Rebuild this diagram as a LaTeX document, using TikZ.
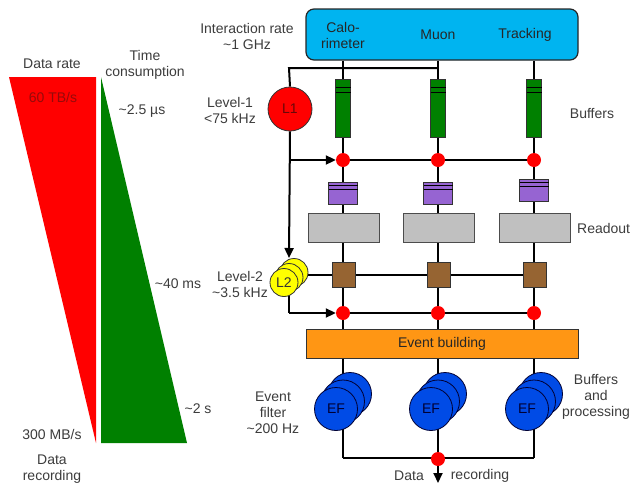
\documentclass[tikz,border=0pt]{standalone}
\usepackage{fontspec}
\setmainfont{Liberation Sans}
\usetikzlibrary{arrows.meta}
\pgfdeclarelayer{background}
\pgfsetlayers{background,main}
\definecolor{txtgray}{RGB}{60,60,60}
\definecolor{tred}{RGB}{255,0,0}
\definecolor{tgreen}{RGB}{0,128,0}
\definecolor{skyblue}{RGB}{0,180,240}
\definecolor{bufgreen}{RGB}{0,128,0}
\definecolor{purp}{RGB}{150,100,210}
\definecolor{rgray}{RGB}{192,192,192}
\definecolor{brown}{RGB}{150,100,50}
\definecolor{orng}{RGB}{255,150,20}
\definecolor{efblue}{RGB}{0,75,230}
\definecolor{yel}{RGB}{255,255,0}
\definecolor{dotred}{RGB}{255,0,0}
\definecolor{darkred}{RGB}{150,10,10}
\begin{document}
\begin{tikzpicture}[x=1pt,y=-1pt,
  txt/.style={text=txtgray, font=\fontsize{14}{16}\selectfont, align=center, inner sep=0},
  wire/.style={line width=2pt, black},
  arr/.style={wire, -{Triangle[length=10pt,width=9pt]}},
  dotnode/.style={circle, fill=dotred, minimum size=14pt, inner sep=0},
  bufbox/.style={draw=black!80, line width=0.8pt, fill=bufgreen, minimum width=15pt, minimum height=58pt, inner sep=0},
  purbox/.style={draw=black!80, line width=0.8pt, fill=purp, minimum width=29pt, minimum height=22pt, inner sep=0},
  rdbox/.style={draw=black!70, line width=0.8pt, fill=rgray, minimum width=71pt, minimum height=29pt, inner sep=0},
  brbox/.style={draw=black!80, line width=0.8pt, fill=brown, minimum width=23pt, minimum height=25pt, inner sep=0},
  efcirc/.style={circle, draw=black!80!blue, line width=0.8pt, fill=efblue, minimum size=43pt, inner sep=0, text=black!80!blue, font=\fontsize{14}{16}\selectfont},
  l2circ/.style={circle, draw=black!80, line width=0.8pt, fill=yel, minimum size=28pt, inner sep=0, text=black!80, font=\fontsize{14}{16}\selectfont},
]
\useasboundingbox (0,0) rectangle (630,485);

% ---- left triangles ----
\fill[tred] (9,77) -- (96,77) -- (96,443) -- cycle;
\fill[tgreen] (101,77) -- (101,443) -- (187,443) -- cycle;
\node[txt] (drate) at (52,64) {Data rate};
\node[txt, text=darkred] (r60) at (53,97) {60 TB/s};
\node[txt] (tcons) at (145,64.5) {Time\\consumption};
\node[txt] (t25) at (142,111) {\textasciitilde2.5 µs};
\node[txt] (t40) at (178,284) {\textasciitilde40 ms};
\node[txt] (t2) at (198,409) {\textasciitilde2 s};
\node[txt] (r300) at (52,434) {300 MB/s};
\node[txt] (drec) at (52,469) {Data\\recording};

% ---- side labels ----
\node[txt] (irate) at (247,36) {Interaction rate\\\textasciitilde1 GHz};
\node[txt] (lev1) at (230,110.5) {Level-1\\<75 kHz};
\node[txt] (lev2) at (240,284) {Level-2\\\textasciitilde3.5 kHz};
\node[txt] (evf) at (273,412.5) {Event\\filter\\\textasciitilde200 Hz};
\node[txt] (bufl) at (592,113) {Buffers};
\node[txt, anchor=west] (rdl) at (577,228) {Readout};
\node[txt] (bapl) at (596,396.5) {Buffers\\and\\processing};

% ---- detector box ----
\node[draw=black!85, line width=1.2pt, fill=skyblue, rounded corners=8pt,
      minimum width=272pt, minimum height=51pt, inner sep=0] (det) at (442,34.5) {};
\node[txt, text=black!85] (calo) at (343,35) {Calo-\\rimeter};
\node[txt, text=black!85] (muon) at (438,35) {Muon};
\node[txt, text=black!85] (trk) at (525,35) {Tracking};

% ---- column boxes ----
\foreach \c/\x/\py in {1/343/193,2/438/193,3/534/190.5}{
  \node[bufbox] (b\c) at (\x,108) {};
  \draw[line width=1pt, black] (\x-7.5,87) -- (\x+7.5,87) (\x-7.5,92) -- (\x+7.5,92);
  \node[purbox] (p\c) at (\x,\py) {};
  \draw[line width=1pt, black] (\x-14.5,\py-8) -- (\x+14.5,\py-8) (\x-14.5,\py-4) -- (\x+14.5,\py-4);
  \node[rdbox] (rd\c) at (\x+0.5,227.5) {};
  \node[brbox] (s\c) at (\x+0.5,274.5) {};
  \node[dotnode] (d1\c) at (\x,160) {};
  \node[dotnode] (d2\c) at (\x,313) {};
}
\node[draw=black!80, line width=0.8pt, fill=orng, minimum width=272pt, minimum height=29pt, inner sep=0,
      text=black!85, font=\fontsize{14}{16}\selectfont] (evb) at (442,343.5) {Event building};

% ---- L1 and L2 ----
\node[circle, draw=black!80, line width=0.8pt, fill=tred, minimum size=44pt, inner sep=0,
      text=darkred!70!black, font=\fontsize{14}{16}\selectfont] (L1) at (290,109) {L1};
\node[l2circ] (L2c) at (294,272.5) {};
\node[l2circ] (L2b) at (289,277.5) {};
\node[l2circ] (L2) at (284,282.5) {L2};

% ---- event filter ----
\foreach \c/\x in {1/343,2/438,3/534}{
  \node[efcirc] (ef\c c) at (\x+7,394) {};
  \node[efcirc] (ef\c b) at (\x,401.5) {};
  \node[efcirc] (ef\c) at (\x-7,409) {EF};
}
\node[dotnode] (dout) at (438,459) {};

% ---- wires on background ----
\coordinate (j1) at (289,68);
\coordinate (l2top) at (289,258);
\coordinate (br1) at (289,160);
\coordinate (br2) at (289,313);
\coordinate (l2bot) at (289,294);
\coordinate (bl) at (343,458);
\coordinate (br) at (534,458);
\coordinate (outend) at (438,483);
\begin{pgfonlayer}{background}
\foreach \c in {1,2,3}{
  \draw[wire] (det.south -| b\c.center) -- (evb.north -| b\c.center);
  \draw[wire] (evb.south -| b\c.center) -- (bl -| b\c.center);
}
\draw[wire] (L1.north) -- (j1) -- (j1 -| b2.center);
\draw[wire] (d11) -- (d13);
\draw[wire] (L2c.east |- s1) -- (s3);
\draw[wire] (d21) -- (d23);
\draw[wire] (l2bot) -- (br2);
\draw[wire] (bl) -- (br);
\end{pgfonlayer}
\draw[arr] (L1.south) -- (l2top);
\draw[arr] (br1) -- (d11.west);
\draw[arr] (br2) -- (d21.west);
\draw[arr] (dout.south) -- (outend);
\node[txt] (dlab) at (409,476) {Data};
\node[txt] (rlab) at (480,476) {recording};
\end{tikzpicture}
\end{document}
